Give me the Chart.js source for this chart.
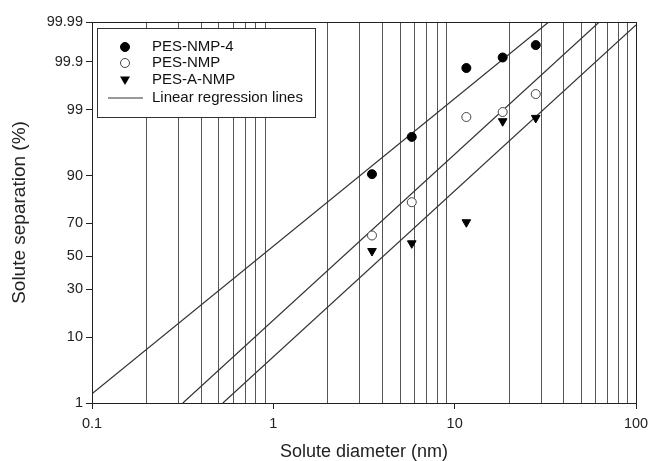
<!DOCTYPE html>
<html>
<head>
<meta charset="utf-8">
<script src="https://cdn.jsdelivr.net/npm/chart.js@4/dist/chart.umd.min.js"></script>
<style>
  body { margin: 0; background: #fff; }
  #wrap { width: 649px; height: 461px; }
</style>
</head>
<body>
<div id="wrap"><canvas id="chart" width="649" height="461"></canvas></div>
<script>
// solute diameters (nm) and separation (%)
const diameters = [3.5, 5.8, 11.6, 18.4, 28];
const pesNmp4 = [90.4, 97.1, 99.86, 99.92, 99.96];
const pesNmp = [63, 80.5, 98.65, 98.9, 99.5];
const pesANmp = [53.4, 58.2, 70.6, 98.4, 98.6];

// regression line end points [diameter, separation %]
const fitNmp4 = [[0.1, 1.46], [33, 99.99]];
const fitNmp = [[0.317, 1], [62.7, 99.99]];
const fitANmp = [[0.527, 1], [100, 99.988]];

const yTickPercents = [1, 10, 30, 50, 70, 90, 99, 99.9, 99.99];
const yTickLabels = ['1', '10', '30', '50', '70', '90', '99', '99.9', '99.99'];
const xGridValues = [0.1, 0.2, 0.3, 0.4, 0.5, 0.6, 0.7, 0.8, 0.9,
  1, 2, 3, 4, 5, 6, 7, 8, 9, 10, 20, 30, 40, 50, 60, 70, 80, 90, 100];
const xDecades = [0.1, 1, 10, 100];
const xDecadeLabels = ['0.1', '1', '10', '100'];

// inverse normal CDF (Acklam) so the y axis is a probability scale
function probit(pct) {
  const p = pct / 100;
  const a = [-3.969683028665376e+01, 2.209460984245205e+02, -2.759285104469687e+02, 1.383577518672690e+02, -3.066479806614716e+01, 2.506628277459239e+00];
  const b = [-5.447609879822406e+01, 1.615858368580409e+02, -1.556989798598866e+02, 6.680131188771972e+01, -1.328068155288572e+01];
  const c = [-7.784894002430293e-03, -3.223964580411365e-01, -2.400758277161838e+00, -2.549732539343734e+00, 4.374664141464968e+00, 2.938163982698783e+00];
  const d = [7.784695709041462e-03, 3.224671290700398e-01, 2.445134137142996e+00, 3.754408661907416e+00];
  const pl = 0.02425, ph = 1 - pl;
  let q, r;
  if (p < pl) {
    q = Math.sqrt(-2 * Math.log(p));
    return (((((c[0]*q+c[1])*q+c[2])*q+c[3])*q+c[4])*q+c[5]) / ((((d[0]*q+d[1])*q+d[2])*q+d[3])*q+1);
  }
  if (p <= ph) {
    q = p - 0.5; r = q * q;
    return (((((a[0]*r+a[1])*r+a[2])*r+a[3])*r+a[4])*r+a[5])*q / (((((b[0]*r+b[1])*r+b[2])*r+b[3])*r+b[4])*r+1);
  }
  q = Math.sqrt(-2 * Math.log(1 - p));
  return -(((((c[0]*q+c[1])*q+c[2])*q+c[3])*q+c[4])*q+c[5]) / ((((d[0]*q+d[1])*q+d[2])*q+d[3])*q+1);
}

const isDecade = v => xDecades.some(d => Math.abs(d - v) < 1e-9);
const points = vals => diameters.map((d, i) => ({ x: d, y: probit(vals[i]) }));
const fitLine = ends => ends.map(e => ({ x: e[0], y: probit(e[1]) }));

const LINE = '#333';
const FONT = '"Liberation Sans", Arial, sans-serif';

const markerStyle = {
  showLine: false,
  borderColor: '#000',
  borderWidth: 1,
};

const datasets = [
  { ...markerStyle, label: 'PES-NMP-4', data: points(pesNmp4), pointStyle: 'circle', pointRadius: 4.5, backgroundColor: '#000' },
  { ...markerStyle, label: 'PES-NMP', data: points(pesNmp), pointStyle: 'circle', pointRadius: 4.5, backgroundColor: '#fff', borderColor: '#444' },
  { ...markerStyle, label: 'PES-A-NMP', data: points(pesANmp), pointStyle: 'triangle', pointRotation: 180, pointRadius: 5, backgroundColor: '#000' },
  { label: 'Linear regression lines', data: fitLine(fitNmp4), showLine: true, pointRadius: 0, borderColor: LINE, borderWidth: 1.2 },
  { label: '_fit2', data: fitLine(fitNmp), showLine: true, pointRadius: 0, borderColor: LINE, borderWidth: 1.2 },
  { label: '_fit3', data: fitLine(fitANmp), showLine: true, pointRadius: 0, borderColor: LINE, borderWidth: 1.2 },
];

// frame + boxed legend inside the plot
const framePlugin = {
  id: 'frame',
  afterDraw(chart) {
    const ctx = chart.ctx;
    const a = chart.chartArea;
    ctx.save();
    ctx.strokeStyle = '#222';
    ctx.lineWidth = 1;
    ctx.strokeRect(a.left + 0.5, a.top + 0.5, a.right - a.left, a.bottom - a.top);

    const bx = a.left + 5, by = a.top + 6, bw = 218, bh = 89;
    ctx.fillStyle = '#fff';
    ctx.fillRect(bx, by, bw, bh);
    ctx.strokeStyle = '#333';
    ctx.strokeRect(bx + 0.5, by + 0.5, bw, bh);

    const rows = [19, 35, 52, 70];
    const mx = bx + 28, tx = bx + 55;
    ctx.font = '15px ' + FONT;
    ctx.textBaseline = 'middle';
    for (let i = 0; i < 4; i++) {
      const ds = chart.data.datasets[i];
      const y = by + rows[i];
      ctx.fillStyle = '#111';
      ctx.fillText(ds.label, tx, y);
      ctx.beginPath();
      if (i === 0 || i === 1) {
        ctx.arc(mx, y, 4.5, 0, Math.PI * 2);
        ctx.fillStyle = ds.backgroundColor;
        ctx.fill();
        ctx.strokeStyle = ds.borderColor;
        ctx.stroke();
      } else if (i === 2) {
        ctx.moveTo(mx - 5, y - 3.5);
        ctx.lineTo(mx + 5, y - 3.5);
        ctx.lineTo(mx, y + 5);
        ctx.closePath();
        ctx.fillStyle = '#000';
        ctx.fill();
      } else {
        ctx.moveTo(bx + 11, y);
        ctx.lineTo(bx + 46, y);
        ctx.strokeStyle = LINE;
        ctx.stroke();
      }
    }
    ctx.restore();
  }
};

new Chart(document.getElementById('chart'), {
  type: 'scatter',
  data: { datasets },
  plugins: [framePlugin],
  options: {
    responsive: false,
    animation: false,
    layout: { padding: { left: 8, top: 22, right: 13, bottom: 0 } },
    plugins: {
      legend: { display: false },
      tooltip: { enabled: false },
    },
    scales: {
      x: {
        type: 'logarithmic',
        min: 0.1,
        max: 100,
        afterBuildTicks: scale => {
          scale.ticks = xGridValues.map(v => ({ value: v, major: isDecade(v) }));
        },
        afterFit: scale => {
          scale.height = 58;
          scale.paddingLeft = 0;
          scale.paddingRight = 0;
        },
        ticks: {
          autoSkip: false,
          maxRotation: 0,
          padding: 6,
          color: '#222',
          font: { family: FONT, size: 14.5 },
          callback: v => {
            const i = xDecades.findIndex(d => Math.abs(d - v) < 1e-9);
            return i >= 0 ? xDecadeLabels[i] : '';
          },
        },
        grid: {
          drawOnChartArea: true,
          tickLength: 6,
          lineWidth: 1,
          color: ctx => (ctx.tick && isDecade(ctx.tick.value)) ? 'rgba(0,0,0,0)' : '#555',
          tickColor: ctx => (ctx.tick && isDecade(ctx.tick.value)) ? '#222' : 'rgba(0,0,0,0)',
        },
        border: { display: true, color: '#222' },
        title: {
          display: true,
          text: 'Solute diameter (nm)',
          color: '#222',
          font: { family: FONT, size: 18, lineHeight: 1 },
          padding: { top: 0, bottom: 0 },
        },
      },
      y: {
        type: 'linear',
        min: probit(1),
        max: probit(99.99),
        afterBuildTicks: scale => {
          scale.ticks = yTickPercents.map(p => ({ value: probit(p) }));
        },
        afterFit: scale => { scale.width = 84; },
        ticks: {
          autoSkip: false,
          padding: 3,
          color: '#222',
          font: { family: FONT, size: 14.5 },
          callback: (v, i) => yTickLabels[i],
        },
        grid: {
          drawOnChartArea: false,
          tickLength: 6,
          color: '#222',
        },
        border: { display: true, color: '#222' },
        title: {
          display: true,
          text: 'Solute separation (%)',
          color: '#222',
          font: { family: FONT, size: 19 },
          padding: { top: 0, bottom: 0 },
        },
      },
    },
  },
});
</script>
</body>
</html>
